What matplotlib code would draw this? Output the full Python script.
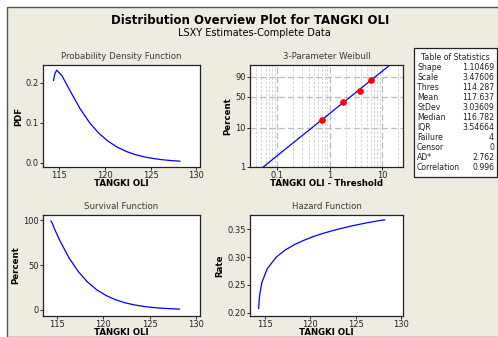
import numpy as np
import matplotlib.pyplot as plt
from matplotlib.patches import Rectangle
from matplotlib.ticker import FixedLocator, NullFormatter

# values
tangki = [114.35, 114.5, 114.7, 115.29, 116.29, 117.29, 118.29, 119.29, 120.29,
          121.29, 122.29, 123.29, 124.29, 125.29, 126.29, 127.29, 128.19]
pdf_vals = [0.2055, 0.222, 0.2312, 0.2167, 0.1743, 0.1338, 0.1003, 0.0741, 0.0541,
            0.0392, 0.0282, 0.0201, 0.0143, 0.0101, 0.0071, 0.0050, 0.0036]
surv_vals = [98.9, 96.5, 91.0, 77.7, 58.1, 42.8, 31.1, 22.4, 16.1,
             11.45, 8.12, 5.73, 4.02, 2.82, 1.96, 1.37, 0.98]
haz_x = [114.35, 114.4, 114.5, 114.7, 115.29, 116.29, 117.29,
         118.29, 119.29, 120.29, 121.29, 122.29, 123.29, 124.29, 125.29, 126.29, 127.29, 128.19]
haz_y = [0.2075, 0.222, 0.2357, 0.254, 0.279, 0.300, 0.313,
         0.3225, 0.330, 0.3365, 0.342, 0.3468, 0.351, 0.355, 0.3585, 0.3618, 0.3648, 0.367]

# 3-parameter Weibull probability plot
fit_t = [0.054, 0.2, 1.0, 5.0, 13.9]
fit_pct = [1.0, 4.18, 22.3, 77.6, 99.0]
obs_t = [0.715, 1.79, 3.82, 6.09]
obs_pct = [15.9, 38.6, 61.4, 84.1]

stat_names = ["Shape", "Scale", "Thres", "Mean", "StDev", "Median", "IQR",
              "Failure", "Censor", "AD*", "Correlation"]
stat_vals = ["1.10469", "3.47606", "114.287", "117.637", "3.03609", "116.782",
             "3.54664", "4", "0", "2.762", "0.996"]

W, H = 498, 337
bg = "#EEEBE1"
fig = plt.figure(figsize=(W / 100, H / 100), dpi=100, facecolor="white")
fig.patches.append(Rectangle((7 / W, 0), 1.0, 1 - 7 / H, transform=fig.transFigure,
                             facecolor=bg, edgecolor="#555555", lw=1.0, zorder=-5))

fig.text(250 / W, 1 - 20 / H, "Distribution Overview Plot for TANGKI OLI",
         ha="center", va="center", fontsize=8.5, fontweight="bold")
fig.text(254 / W, 1 - 33 / H, "LSXY Estimates-Complete Data",
         ha="center", va="center", fontsize=7)

tick_fs = 6.0
lab_fs = 6.2


def frame(x0, y0, x1, y1):
    ax = fig.add_axes([x0 / W, 1 - y1 / H, (x1 - x0) / W, (y1 - y0) / H])
    ax.set_facecolor("white")
    for s in ax.spines.values():
        s.set_color("#222222")
        s.set_linewidth(0.9)
    ax.tick_params(labelsize=tick_fs, length=2.0, width=0.7, pad=1.0, colors="#222222")
    return ax


def labels(ax, title, xl, yl):
    ax.set_title(title, fontsize=6.2, pad=4, color="#3a3a3a")
    ax.set_xlabel(xl, fontsize=lab_fs, fontweight="bold", labelpad=-0.5)
    ax.set_ylabel(yl, fontsize=lab_fs, fontweight="bold", labelpad=2)


# PDF
ax1 = frame(43, 65, 200, 167)
ax1.plot(tangki, pdf_vals, color="blue", lw=0.9)
ax1.set_xlim(113.2, 130.4)
ax1.set_ylim(-0.011, 0.244)
ax1.set_xticks([115, 120, 125, 130])
ax1.set_yticks([0.0, 0.1, 0.2])
labels(ax1, "Probability Density Function", "TANGKI OLI", "PDF")

# Weibull probability plot
def wfwd(p):
    p = np.clip(np.asarray(p, dtype=float), 1e-6, 99.9999) / 100.0
    return np.log(-np.log(1 - p))


def winv(w):
    return 100.0 * (1 - np.exp(-np.exp(np.asarray(w, dtype=float))))


ax2 = frame(250, 65, 403, 167)
ax2.set_xscale("log")
ax2.set_yscale("function", functions=(wfwd, winv))
ax2.set_xlim(0.0303, 24.7)
ax2.set_ylim(1.0, 99.03)
ax2.xaxis.set_major_locator(FixedLocator([0.1, 1, 10]))
ax2.set_xticklabels(["0.1", "1", "10"])
minor = [m * 10.0 ** e for e in (-2, -1, 0, 1) for m in range(2, 10)]
ax2.xaxis.set_minor_locator(FixedLocator(minor))
ax2.xaxis.set_minor_formatter(NullFormatter())
ax2.tick_params(axis="x", which="minor", length=0)
ax2.yaxis.set_major_locator(FixedLocator([1, 10, 50, 90]))
ax2.set_yticklabels(["1", "10", "50", "90"])
ax2.yaxis.set_minor_locator(FixedLocator([]))
ax2.grid(True, which="major", axis="x", color="#BBBBBB", lw=0.9, ls=(0, (5, 2.5)))
ax2.grid(True, which="minor", axis="x", color="#CCCCCC", lw=0.6, ls=(0, (3, 2)))
for p in [10, 50, 90]:
    ax2.axhline(p, color="#BBBBBB", lw=0.9, ls=(0, (5, 2.5)), zorder=1)
ax2.plot(fit_t, fit_pct, color="blue", lw=0.9, zorder=3)
ax2.plot(obs_t, obs_pct, "o", color="red", ms=3.8, zorder=4)
labels(ax2, "3-Parameter Weibull", "TANGKI OLI - Threshold", "Percent")

# Survival
ax3 = frame(43, 215, 200, 316)
ax3.plot(tangki, surv_vals, color="blue", lw=0.9)
ax3.set_xlim(113.5, 130.4)
ax3.set_ylim(-6.7, 105.6)
ax3.set_xticks([115, 120, 125, 130])
ax3.set_yticks([0, 50, 100])
labels(ax3, "Survival Function", "TANGKI OLI", "Percent")

# Hazard
ax4 = frame(250, 215, 403, 316)
ax4.plot(haz_x, haz_y, color="blue", lw=0.9)
ax4.set_xlim(113.4, 130.2)
ax4.set_ylim(0.194, 0.3757)
ax4.set_xticks([115, 120, 125, 130])
ax4.set_yticks([0.20, 0.25, 0.30, 0.35])
ax4.set_yticklabels(["0.20", "0.25", "0.30", "0.35"])
labels(ax4, "Hazard Function", "TANGKI OLI", "Rate")

# Table of statistics
fig.patches.append(Rectangle((414 / W, 1 - 177 / H), 83 / W, 129 / H,
                             transform=fig.transFigure, facecolor="white",
                             edgecolor="#222222", lw=0.9))
fig.text(455 / W, 1 - 57 / H, "Table of Statistics", ha="center", va="center",
         fontsize=5.6, color="#222222")
for i, (n, v) in enumerate(zip(stat_names, stat_vals)):
    y = 1 - (67.5 + i * 10.0) / H
    fig.text(417 / W, y, n, ha="left", va="center", fontsize=5.6, color="#222222")
    fig.text(494 / W, y, v, ha="right", va="center", fontsize=5.6, color="#222222")

fig.savefig("out.png", dpi=100, facecolor=fig.get_facecolor())
